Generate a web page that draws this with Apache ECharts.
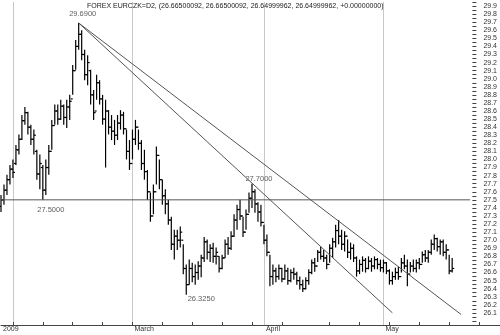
<!DOCTYPE html>
<html>
<head>
<meta charset="utf-8">
<script src="https://cdn.jsdelivr.net/npm/echarts@6/dist/echarts.min.js"></script>
<style>html,body{margin:0;padding:0;background:#fff}#c{width:500px;height:335px}</style>
</head>
<body>
<div id="c"></div>
<script>
// Trading days (two sessions per day)
const sessionDays = [
  ['2009-01', [29, 30]],
  ['2009-02', [2,3,4,5,6,9,10,11,12,13,16,17,18,19,20,23,24,25,26,27]],
  ['2009-03', [2,3,4,5,6,9,10,11,12,13,16,17,18,19,20,23,24,25,26,27,30,31]],
  ['2009-04', [1,2,3,6,7,8,9,14,15,16,17,20,21,22,23,24,27,28,29,30]],
  ['2009-05', [1,4,5,6,7,8,11,12,13,14,15,18,19,20,21,22,25,26,27,28]]
];
const tickLabels = [['2009-01-29 00:00','2009'],['2009-03-02 00:00','March'],['2009-04-01 00:00','April'],['2009-05-01 00:00','May']];
const monthStarts = ['2009-02-02 00:00','2009-03-02 00:00','2009-04-01 00:00','2009-05-01 00:00'];

const openV = [27.42,27.50,27.62,27.75,27.88,27.95,28.12,28.25,28.48,28.58,28.40,28.25,28.10,27.82,27.90,27.62,27.90,28.10,28.42,28.60,
28.50,28.66,28.52,28.65,28.75,29.10,29.40,29.55,29.30,29.05,29.10,28.80,28.60,28.95,28.75,28.50,28.60,28.40,28.35,28.30,
28.45,28.55,28.38,28.10,27.95,28.25,28.40,28.20,27.95,27.85,27.60,27.30,27.60,28.05,27.75,27.55,27.45,27.25,26.95,27.05,
27.00,27.00,26.65,26.45,26.65,26.55,26.60,26.68,26.78,26.98,26.85,26.90,26.80,26.80,26.65,26.78,26.95,26.90,27.05,27.25,
27.38,27.30,27.10,27.32,27.52,27.60,27.45,27.35,27.22,27.00,26.85,26.55,26.62,26.55,26.65,26.52,26.62,26.50,26.60,26.58,
26.50,26.45,26.40,26.50,26.60,26.72,26.68,26.85,26.80,26.78,26.70,26.90,26.98,27.12,27.05,26.95,27.05,26.85,26.90,26.78,
26.62,26.70,26.75,26.65,26.74,26.68,26.76,26.70,26.66,26.72,26.62,26.50,26.55,26.60,26.55,26.72,26.68,26.58,26.68,26.65,
26.72,26.70,26.82,26.78,26.85,26.95,27.02,26.92,26.98,26.85,26.88,26.62];
const closeV = [27.50,27.62,27.75,27.88,27.84,28.12,28.25,28.48,28.58,28.40,28.25,28.30,27.82,27.95,27.62,27.90,28.10,28.42,28.60,28.50,
28.66,28.52,28.65,28.72,29.10,29.40,29.55,29.30,29.05,29.20,28.80,28.58,28.95,28.75,28.50,28.60,28.40,28.35,28.30,28.45,
28.55,28.38,28.10,27.95,28.25,28.40,28.20,27.95,27.85,27.60,27.30,27.60,28.05,27.75,27.55,27.45,27.25,26.95,27.05,27.00,
27.10,26.65,26.45,26.65,26.55,26.60,26.68,26.78,26.98,26.85,26.90,26.80,26.85,26.65,26.78,26.95,26.90,27.05,27.25,27.38,
27.30,27.10,27.32,27.52,27.60,27.45,27.35,27.22,27.00,26.85,26.55,26.62,26.55,26.65,26.52,26.62,26.50,26.60,26.58,26.50,
26.45,26.40,26.50,26.60,26.72,26.68,26.85,26.80,26.78,26.70,26.90,26.98,27.12,27.05,26.95,27.05,26.85,26.90,26.78,26.62,
26.70,26.75,26.65,26.74,26.68,26.76,26.70,26.66,26.72,26.62,26.50,26.55,26.60,26.55,26.72,26.68,26.58,26.68,26.65,26.72,
26.70,26.82,26.78,26.85,26.95,27.02,26.92,26.98,26.85,26.88,26.62,26.65];
const lowV = [27.35,27.44,27.56,27.69,27.77,27.93,28.06,28.24,28.43,28.31,28.18,28.06,27.75,27.63,27.50,27.56,27.81,28.12,28.43,28.43,
28.49,28.43,28.39,28.49,28.80,29.11,29.36,29.23,28.98,28.92,28.68,28.49,28.74,28.68,28.43,27.90,28.31,28.24,28.18,28.24,
28.37,28.31,28.00,27.87,28.00,28.18,28.12,27.87,27.75,27.50,27.23,27.32,27.69,27.63,27.44,27.32,27.19,26.88,26.76,26.88,
26.91,26.58,26.325,26.45,26.48,26.45,26.51,26.54,26.73,26.76,26.73,26.72,26.70,26.60,26.64,26.78,26.82,26.88,27.04,27.13,
27.25,27.04,27.13,27.34,27.40,27.34,27.23,27.17,26.95,26.80,26.43,26.45,26.48,26.51,26.48,26.51,26.45,26.48,26.51,26.45,
26.39,26.36,26.39,26.45,26.58,26.61,26.73,26.76,26.73,26.64,26.72,26.78,26.91,26.95,26.88,26.86,26.78,26.76,26.73,26.55,
26.58,26.61,26.60,26.64,26.61,26.64,26.64,26.61,26.60,26.58,26.45,26.45,26.51,26.51,26.60,26.64,26.43,26.60,26.61,26.60,
26.64,26.72,26.73,26.72,26.82,26.88,26.86,26.82,26.80,26.76,26.58,26.60];
const highV = [27.56,27.69,27.81,27.93,28.00,28.18,28.31,28.55,28.65,28.59,28.43,28.37,28.12,28.06,27.93,28.00,28.18,28.49,28.68,28.68,
28.74,28.68,28.74,28.80,29.17,29.48,29.69,29.60,29.36,29.29,29.11,28.86,29.05,28.98,28.80,28.74,28.61,28.55,28.49,28.55,
28.61,28.59,28.37,28.24,28.37,28.49,28.37,28.24,28.12,27.87,27.59,27.69,28.16,28.00,27.75,27.63,27.50,27.29,27.13,27.13,
27.17,26.95,26.70,26.76,26.72,26.70,26.74,26.82,27.04,27.01,26.95,26.97,26.91,26.80,26.82,27.01,27.04,27.11,27.32,27.44,
27.50,27.29,27.38,27.59,27.70,27.63,27.47,27.44,27.19,27.07,26.82,26.70,26.66,26.70,26.66,26.70,26.66,26.64,26.66,26.61,
26.55,26.51,26.54,26.64,26.76,26.78,26.88,26.92,26.88,26.82,26.95,27.03,27.19,27.25,27.13,27.11,27.01,26.97,26.95,26.80,
26.76,26.80,26.78,26.80,26.78,26.80,26.78,26.76,26.76,26.73,26.64,26.61,26.66,26.67,26.78,26.82,26.76,26.73,26.76,26.76,
26.78,26.86,26.88,26.88,27.01,27.07,27.03,27.01,27.01,26.95,26.82,26.78];

// Annotations: [category index, value, text]
const notes = [[26, 29.69, '29.6900'], [14, 27.5, '27.5000'], [84, 27.7, '27.7000'], [62, 26.325, '26.3250']];
// Trend lines: pairs of [category index, value]
const trendUpper = [[26, 29.69], [154, 26.08]];
const trendLower = [[26, 29.69], [131, 26.10]];
const support = [[0, 27.5], [157, 27.5]];
const titleText = 'FOREX EURCZK=D2, (26.66500092, 26.66500092, 26.64999962, 26.64999962, +0.00000000)';

const categories = [];
sessionDays.forEach(([ym, ds]) => ds.forEach(d => {
  const dd = (d < 10 ? '0' : '') + d;
  categories.push(ym + '-' + dd + ' 00:00');
  categories.push(ym + '-' + dd + ' 12:00');
}));
const labelMap = {};
tickLabels.forEach(([k, v]) => labelMap[k] = v);
const isMonday = v => v.endsWith('00:00') && new Date(v.slice(0, 10) + 'T00:00:00Z').getUTCDay() === 1;

const ohlc = openV.map((o, i) => [i, o, closeV[i], lowV[i], highV[i]]);
const FONT = '"Liberation Sans", Arial, sans-serif';
const noteOffsets = [[4, -9], [8, 10], [7, -5], [15, 4]];

const chart = echarts.init(document.getElementById('c'), null, {renderer: 'canvas'});
chart.setOption({
  animation: false,
  backgroundColor: '#fff',
  title: {text: titleText, left: 87, top: 3, padding: 0,
    textStyle: {fontSize: 7, fontWeight: 'normal', color: '#222', fontFamily: FONT}},
  grid: {left: -0.7, right: -0.6, top: 2, bottom: 10, containLabel: false},
  xAxis: {
    type: 'category', data: categories, boundaryGap: false,
    axisLine: {lineStyle: {color: '#444', width: 1}},
    axisTick: {inside: true, length: 3, interval: (i, v) => isMonday(v), lineStyle: {color: '#444'}},
    axisLabel: {interval: (i, v) => labelMap[v] !== undefined, formatter: v => labelMap[v] || '',
      align: 'left', padding: [0, 0, 0, 2], margin: 1, fontSize: 7, color: '#333', fontFamily: FONT},
    splitLine: {show: true, interval: (i, v) => monthStarts.indexOf(v) >= 0, lineStyle: {color: '#c8c8c8', width: 1}}
  },
  yAxis: {
    type: 'value', position: 'right', offset: -27.6, min: 25.95, max: 29.95, interval: 0.05, scale: true,
    axisLine: {show: false},
    axisTick: {show: true, length: 4, lineStyle: {color: '#444'}},
    splitLine: {show: false},
    axisLabel: {margin: 11, fontSize: 7, color: '#333', fontFamily: FONT,
      formatter: v => { const t = Math.round(v * 100); if (t % 10 !== 0 || t < 2605) return ''; return (t / 100).toFixed(1); }}
  },
  series: [
    {type: 'line', data: support, symbol: 'none', lineStyle: {color: '#555', width: 1}, silent: true},
    {type: 'line', data: trendUpper, symbol: 'none', lineStyle: {color: '#555', width: 1}, silent: true},
    {type: 'line', data: trendLower, symbol: 'none', lineStyle: {color: '#555', width: 1}, silent: true},
    {
      type: 'custom', data: ohlc, encode: {x: 0, y: [1, 2, 3, 4]},
      renderItem: (params, api) => {
        const i = api.value(0);
        const pO = api.coord([i, api.value(1)]);
        const pC = api.coord([i, api.value(2)]);
        const pL = api.coord([i, api.value(3)]);
        const pH = api.coord([i, api.value(4)]);
        const x = pO[0], w = 2;
        const st = {stroke: '#000', lineWidth: 1.2};
        return {type: 'group', children: [
          {type: 'line', shape: {x1: x, y1: pH[1], x2: x, y2: pL[1]}, style: st},
          {type: 'line', shape: {x1: x - w, y1: pO[1], x2: x, y2: pO[1]}, style: st},
          {type: 'line', shape: {x1: x, y1: pC[1], x2: x + w, y2: pC[1]}, style: st}
        ]};
      }
    },
    {
      type: 'scatter', symbolSize: 0, silent: true,
      data: notes.map((n, k) => ({value: [n[0], n[1]], label: {show: true, position: 'inside', offset: noteOffsets[k], formatter: n[2]}})),
      label: {fontSize: 7.5, color: '#333', fontFamily: FONT}
    }
  ]
});
</script>
</body>
</html>
